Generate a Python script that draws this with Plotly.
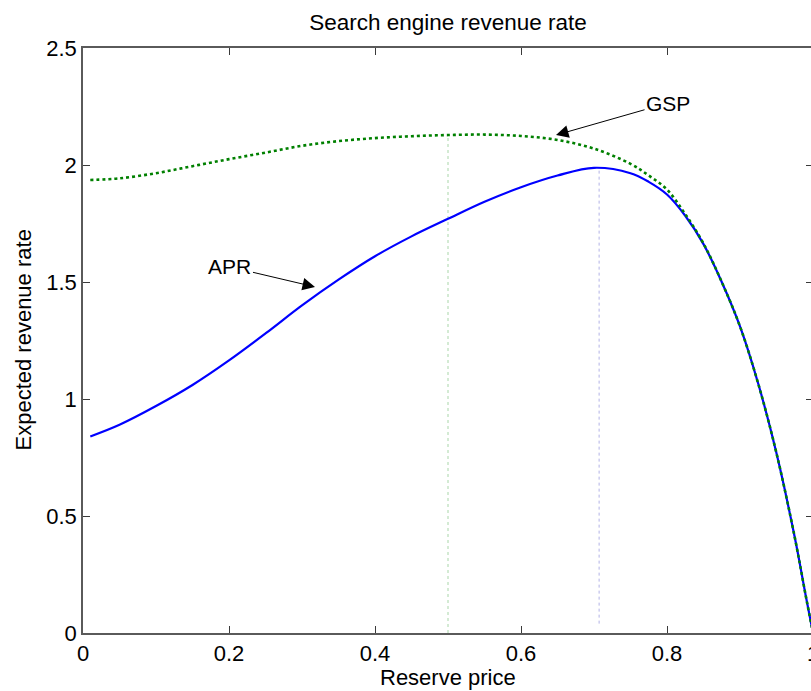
import plotly.graph_objects as go

# ---- data ----
reserve_price = [0.01, 0.05, 0.10, 0.15, 0.20, 0.25, 0.30, 0.35, 0.40, 0.45, 0.50,
                 0.55, 0.60, 0.65, 0.70, 0.75, 0.775, 0.80, 0.825, 0.85, 0.875, 0.90,
                 0.925, 0.95, 0.975, 0.99, 1.00]
apr_revenue = [0.84, 0.89, 0.97, 1.06, 1.165, 1.28, 1.40, 1.51, 1.61, 1.695, 1.77,
               1.843, 1.905, 1.955, 1.988, 1.965, 1.928, 1.874, 1.783, 1.662, 1.50, 1.31,
               1.065, 0.768, 0.409, 0.16, 0.0]
gsp_revenue = [1.936, 1.943, 1.965, 1.995, 2.025, 2.053, 2.082, 2.102, 2.115, 2.123, 2.128,
               2.13, 2.124, 2.107, 2.07, 2.005, 1.955, 1.895, 1.79, 1.664, 1.50, 1.31,
               1.065, 0.768, 0.409, 0.16, 0.0]

gsp_opt_x, gsp_opt_y = 0.5, 2.128
apr_opt_x, apr_opt_y, apr_opt_y0 = 0.707, 1.99, 0.04

x_tickvals = [0, 0.2, 0.4, 0.6, 0.8, 1.0]
x_ticktext = ["0", "0.2", "0.4", "0.6", "0.8", "1"]
y_tickvals = [0, 0.5, 1.0, 1.5, 2.0, 2.5]
y_ticktext = ["0", "0.5", "1", "1.5", "2", "2.5"]

FONT = "Liberation Sans, Arial, sans-serif"

fig = go.Figure()

# optimal reserve markers (thin dotted verticals)
fig.add_trace(go.Scatter(x=[gsp_opt_x, gsp_opt_x], y=[0, gsp_opt_y], mode="lines",
                         line=dict(color="#a9d6a9", width=1, dash="dot"),
                         showlegend=False, hoverinfo="skip"))
fig.add_trace(go.Scatter(x=[apr_opt_x, apr_opt_x], y=[apr_opt_y0, apr_opt_y], mode="lines",
                         line=dict(color="#b3b3e6", width=1, dash="dot"),
                         showlegend=False, hoverinfo="skip"))

fig.add_trace(go.Scatter(x=reserve_price, y=apr_revenue, mode="lines", name="APR",
                         line=dict(color="#0000ff", width=2.2, shape="spline", smoothing=1.0),
                         showlegend=False))
fig.add_trace(go.Scatter(x=reserve_price, y=gsp_revenue, mode="lines", name="GSP",
                         line=dict(color="#008000", width=2.6, dash="dot",
                                   shape="spline", smoothing=1.0),
                         showlegend=False))

axis_common = dict(showgrid=False, zeroline=False, showline=True, linecolor="#5a5a5a",
                   linewidth=1.5, mirror="allticks", ticks="inside", ticklen=7,
                   tickwidth=1.2, tickcolor="#3a3a3a", ticklabeloverflow="allow",
                   automargin=False,
                   tickfont=dict(family=FONT, size=22, color="black"))

fig.update_xaxes(range=[0, 1], tickvals=x_tickvals, ticktext=x_ticktext, **axis_common)
fig.update_yaxes(range=[0, 2.5], tickvals=y_tickvals, ticktext=y_ticktext, **axis_common)

PLOT_W = 730
fig.update_layout(
    width=83 + PLOT_W, height=691, autosize=False,
    margin=dict(l=83, r=0, t=48, b=58, autoexpand=False),
    paper_bgcolor="white", plot_bgcolor="white",
    title=dict(text="Search engine revenue rate", x=0.5, xref="paper",
               y=1 - 22 / 691, yref="container", yanchor="middle", xanchor="center",
               font=dict(family=FONT, size=22.5, color="black")),
    annotations=[
        dict(text="Reserve price", xref="paper", yref="paper", x=0.5, y=-44 / 585,
             xanchor="center", yanchor="middle", showarrow=False,
             font=dict(family=FONT, size=22, color="black")),
        dict(text="Expected revenue rate", xref="paper", yref="paper", x=-60 / PLOT_W, y=0.5,
             xanchor="center", yanchor="middle", textangle=-90, showarrow=False,
             font=dict(family=FONT, size=22, color="black")),
        dict(text="GSP", x=0.648, y=2.128, xref="x", yref="y", ax=112, ay=-32,
             showarrow=True, arrowhead=2, arrowsize=2.5, arrowwidth=1, arrowcolor="black",
             font=dict(family=FONT, size=21, color="black")),
        dict(text="APR", x=0.3178, y=1.479, xref="x", yref="y", ax=-85, ay=-20,
             showarrow=True, arrowhead=2, arrowsize=2.5, arrowwidth=1, arrowcolor="black",
             font=dict(family=FONT, size=21, color="black")),
    ],
)

fig.write_html("out.html", config={"displayModeBar": False},
               post_script="document.body.style.margin='0';document.body.style.overflow='hidden';")
